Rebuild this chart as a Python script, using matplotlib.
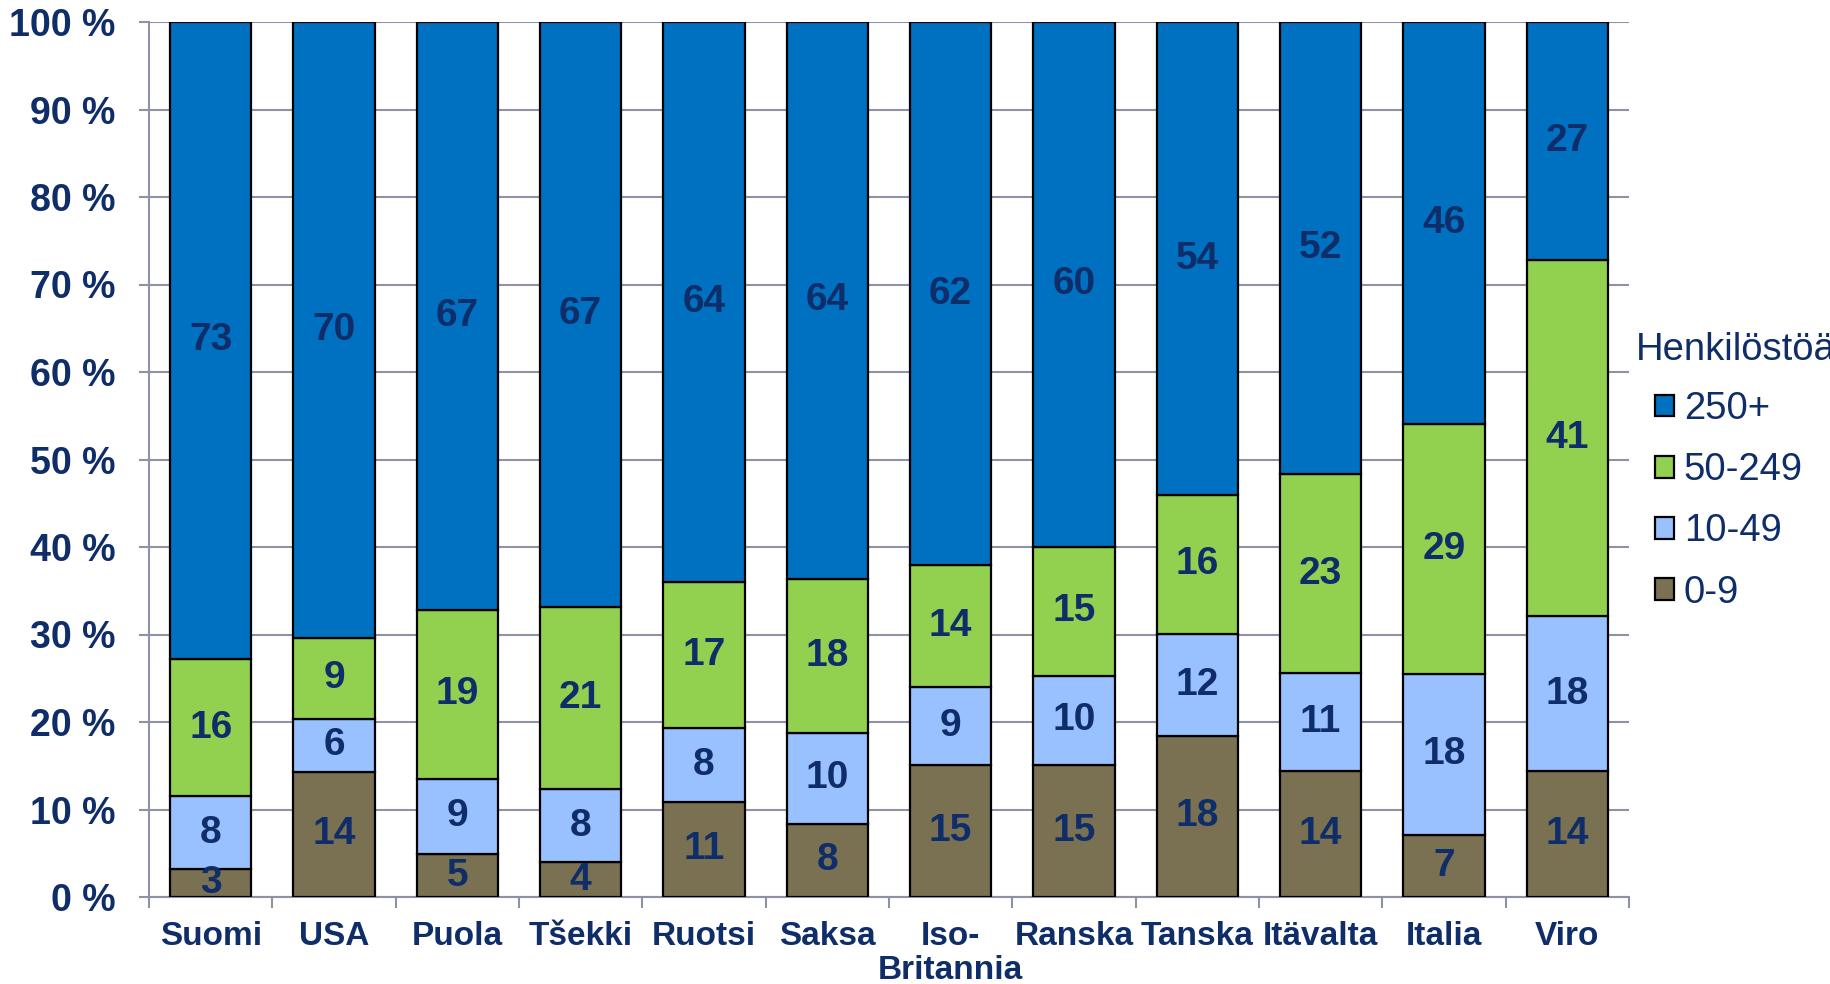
import matplotlib
matplotlib.use("Agg")
import matplotlib.pyplot as plt
from matplotlib.patches import Patch
import numpy as np

plt.rcParams['font.family'] = ['Liberation Sans', 'DejaVu Sans']

countries = ["Suomi", "USA", "Puola", "Tšekki", "Ruotsi", "Saksa", "Iso-\nBritannia",
             "Ranska", "Tanska", "Itävalta", "Italia", "Viro"]
size_0_9 = [3.2, 14.3, 4.9, 4.0, 10.9, 8.4, 15.1, 15.1, 18.4, 14.4, 7.1, 14.4]
size_10_49 = [8.3, 6.1, 8.6, 8.3, 8.4, 10.4, 8.9, 10.2, 11.7, 11.2, 18.4, 17.7]
size_50_249 = [15.7, 9.2, 19.3, 20.9, 16.7, 17.6, 13.9, 14.7, 15.8, 22.7, 28.6, 40.7]
size_250 = [72.8, 70.4, 67.2, 66.8, 64.0, 63.6, 62.1, 60.0, 54.1, 51.7, 45.9, 27.2]
series_names = ["0-9", "10-49", "50-249", "250+"]
series_colors = ["#7A7052", "#99C0FF", "#92D050", "#0070C0"]
yticks = [0, 10, 20, 30, 40, 50, 60, 70, 80, 90, 100]
legend_title = "Henkilöstöä"

navy = "#0F2D69"
grid_col = "#8E92A4"

fig = plt.figure(figsize=(18.3, 9.84), dpi=100)
ax = fig.add_axes([149 / 1830, 1 - 897 / 984, (1629 - 149) / 1830, (897 - 22) / 984])

x = np.arange(len(countries))
bottom = np.zeros(len(countries))
handles = []
for vals, name, col in zip([size_0_9, size_10_49, size_50_249, size_250], series_names, series_colors):
    vals = np.array(vals)
    ax.bar(x, vals, width=0.66, bottom=bottom, color=col, edgecolor="black",
           linewidth=1.6, zorder=3)
    for xi, b, v in zip(x, bottom, vals):
        ax.text(xi, b + v / 2, f"{v:.0f}", ha="center", va="center", color=navy,
                fontsize=28, fontweight="bold", zorder=4)
    bottom += vals
    handles.append(Patch(facecolor=col, edgecolor="black", linewidth=1.6, label=name))

ax.set_xlim(-0.5, len(countries) - 0.5)
ax.set_ylim(0, 100)
ax.set_yticks(yticks)
ax.set_yticklabels([f"{t} %" for t in yticks])
ax.set_xticks(x)
ax.set_xticklabels(countries, linespacing=1.15)
ax.set_xticks(np.arange(-0.5, len(countries)), minor=True)

ax.tick_params(axis="y", which="major", length=7, width=1.5, color=grid_col,
               labelsize=27, labelcolor=navy, pad=17)
ax.tick_params(axis="x", which="major", length=0, labelsize=24, labelcolor=navy, pad=17)
ax.tick_params(axis="x", which="minor", length=8, width=1.5, color=grid_col)
for lab in ax.get_yticklabels() + ax.get_xticklabels():
    lab.set_fontweight("bold")

ax.grid(axis="y", color=grid_col, linewidth=1.5, zorder=0)
for s in ["top", "right"]:
    ax.spines[s].set_visible(False)
for s in ["left", "bottom"]:
    ax.spines[s].set_color(grid_col)
    ax.spines[s].set_linewidth(1.5)

fig.text(1636 / 1830, 1 - 350 / 984, legend_title, ha="left", va="center",
         fontsize=27.5, color=navy)
leg = fig.legend(handles=handles[::-1], loc="upper left",
                 bbox_to_anchor=(1655 / 1830, 1 - 391 / 984), frameon=False,
                 fontsize=27.5,
                 handlelength=0.5, handleheight=0.5, handletextpad=0.25,
                 labelspacing=0.66, borderpad=0, borderaxespad=0)
for t in leg.get_texts():
    t.set_color(navy)

fig.savefig("out.png", dpi=100)
